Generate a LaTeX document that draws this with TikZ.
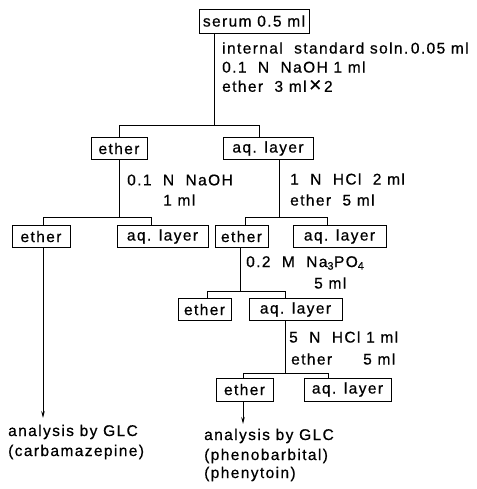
\documentclass[tikz,border=0pt]{standalone}
\usepackage{fontspec}
\setmainfont[LetterSpace=9,FakeBold=0.6]{Liberation Sans}
\usetikzlibrary{arrows.meta}
\begin{document}
\begin{tikzpicture}[x=1pt,y=-1pt,
  every node/.style={font=\fontsize{15.5}{17}\selectfont},
  box/.style={draw, line width=0.9pt, inner sep=0pt, minimum height=22pt},
  lab/.style={anchor=west, inner sep=0pt},
  link/.style={line width=0.9pt},
  toanalysis/.style={line width=0.9pt, -{Stealth[length=7pt,width=3.5pt]}}]
\useasboundingbox (0,0) rectangle (476,489);

% sample and first extraction
\node[box, minimum width=110pt, minimum height=24pt] (serum) at (254,21) {serum 0.5 ml};
\node[lab] (t1) at (222,48) {internal\ \ standard soln.\,0.05 ml};
\node[lab] (t2) at (222,67) {0.1\ \ N\ \ NaOH 1 ml};
\node[lab] (t3) at (222,86) {ether\ \ 3 ml\,{\fontsize{21}{21}\selectfont ×}\,2};

\node[box, minimum width=56pt] (ether1) at (119,148.5) {ether};
\node[box, minimum width=90pt] (aq1) at (268,148.5) {aq. layer};
\coordinate (j0) at (214,125);
\coordinate (d1) at (259,125);
\draw[link] (serum.south -| j0) -- (j0);
\draw[link] (ether1.north) |- (d1) -- (aq1.north -| d1);

% back-extraction of the ether phase
\node[lab] (t4) at (127,180) {0.1\ \ N\ \ NaOH};
\node[lab] (t5) at (163,200) {1 ml};
\node[box, minimum width=58pt] (ether2L) at (41,236.5) {ether};
\node[box, minimum width=91pt] (aq2L) at (162.5,236.5) {aq. layer};
\coordinate (eL) at (43,217);
\coordinate (dL) at (151,217);
\draw[link] (ether1.south) -- (ether1.south |- dL);
\draw[link] (ether2L.north -| eL) |- (dL) -- (aq2L.north -| dL);

% acidified aqueous phase
\node[lab] (t6) at (290,179) {1\ \ N\ \ HCl\ \ 2 ml};
\node[lab] (t7) at (290,200) {ether\ \ 5 ml};
\node[box, minimum width=53pt] (ether2R) at (241.5,236.5) {ether};
\node[box, minimum width=93pt] (aq2R) at (339.5,236.5) {aq. layer};
\coordinate (jR) at (279,217);
\coordinate (eR) at (245,217);
\coordinate (dR) at (327,217);
\draw[link] (aq1.south -| jR) -- (jR);
\draw[link] (ether2R.north -| eR) |- (dR) -- (aq2R.north -| dR);

% phosphate wash
\node[lab] (t8) at (246,263) {0.2\ \ M\ \ Na\textsubscript{3}PO\textsubscript{4}};
\node[lab] (t9) at (314,283) {5 ml};
\node[box, minimum width=53pt] (ether3) at (204.5,309.5) {ether};
\node[box, minimum width=93pt] (aq3) at (295.5,309.5) {aq. layer};
\coordinate (j3) at (240,291);
\coordinate (e3) at (207,291);
\coordinate (d3) at (285,291);
\draw[link] (ether2R.south -| j3) -- (j3);
\draw[link] (ether3.north -| e3) |- (d3) -- (aq3.north -| d3);

% final extraction
\node[lab] (t10) at (289,337) {5\ \ N\ \ HCl\ 1\ ml};
\node[lab] (t11) at (291,359) {ether};
\node[lab] (t12) at (363,359) {5 ml};
\node[box, minimum width=57pt, minimum height=23pt] (ether4) at (244.5,389.5) {ether};
\node[box, minimum width=87pt, minimum height=23pt] (aq4) at (347.5,389.5) {aq. layer};
\coordinate (j4) at (285,373);
\coordinate (e4) at (243,373);
\coordinate (d4) at (328,373);
\draw[link] (aq3.south -| j4) -- (j4);
\draw[link] (ether4.north -| e4) |- (d4) -- (aq4.north -| d4);

% analyses
\coordinate (endL) at (43,418);
\coordinate (endR) at (243,424);
\draw[toanalysis] (ether2L.south -| endL) -- (endL);
\draw[toanalysis] (ether4.south -| endR) -- (endR);
\node[lab] (t13) at (8,432) {analysis by GLC};
\node[lab] (t14) at (8,452) {(carbamazepine)};
\node[lab] (t15) at (204,436) {analysis by GLC};
\node[lab] (t16) at (204,456) {(phenobarbital)};
\node[lab] (t17) at (204,474) {(phenytoin)};
\end{tikzpicture}
\end{document}
